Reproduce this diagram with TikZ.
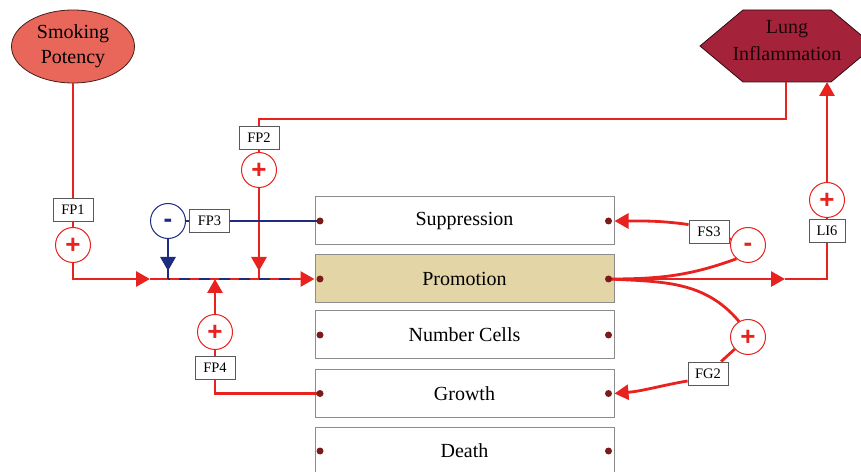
\documentclass[tikz,border=0pt]{standalone}
\usepackage{fontspec}
\setmainfont{Liberation Serif}
\newfontfamily\signfont{Liberation Sans}
\usetikzlibrary{arrows.meta,shapes.geometric,decorations.markings}

\definecolor{linkred}{HTML}{E8221E}
\definecolor{linkblue}{HTML}{1E2C80}
\definecolor{dotred}{HTML}{7A1C1C}
\definecolor{promofill}{HTML}{E4D5A7}
\definecolor{smokefill}{HTML}{E8665A}
\definecolor{lungfill}{HTML}{A5233A}
\definecolor{boxgray}{HTML}{8C8C8C}

% sign glyphs, vertically centred on the node centre
\newcommand\plussign{\smash{\raisebox{-8.5pt}{+}}}
\newcommand\minussign{\smash{\raisebox{-6.5pt}{-}}}

\tikzset{
  stage/.style={draw=boxgray, line width=1pt, fill=white, minimum width=299pt,
    minimum height=48pt, inner sep=0pt, font=\fontsize{20}{24}\selectfont},
  tag/.style={draw=black!65, line width=0.9pt, fill=white, minimum width=40pt,
    minimum height=23pt, inner sep=0pt, font=\fontsize{14.5}{16}\selectfont},
  sign/.style={circle, draw=linkred, line width=1pt, fill=white, minimum size=35pt,
    inner sep=0pt, text=linkred, font=\signfont\bfseries\fontsize{26}{26}\selectfont},
  bluesign/.style={sign, draw=linkblue, text=linkblue},
  link/.style={linkred, line width=2.8pt},
  bluelink/.style={linkblue, line width=2.8pt},
  arrowend/.style={-{Triangle[length=14pt,width=15pt]}},
  arrowbefore/.style={postaction={decorate}, decoration={markings,
    mark=at position -8pt with {\arrow{Triangle[length=14pt,width=15pt]}}}},
  dot/.style={circle, fill=dotred, minimum size=7pt, inner sep=0pt},
}

\begin{document}
\begin{tikzpicture}[x=1pt,y=1pt]
\useasboundingbox (0,0) rectangle (861,471);

% source: smoking potency
\node[ellipse, draw=black!70!smokefill, line width=0.8pt, fill=smokefill,
  minimum width=123pt, minimum height=73pt, inner sep=0pt, align=center,
  font=\fontsize{20}{25}\selectfont] (sp) at (73,424.5) {Smoking\\Potency};

% sink: lung inflammation
\draw[draw=black!70!lungfill, line width=0.8pt, fill=lungfill]
  (700,425) -- (743,461) -- (831,461) -- (874,425) -- (831,389) -- (743,389) -- cycle;
\node[align=center, text=black!85!lungfill, font=\fontsize{20}{27}\selectfont]
  (li) at (787,430) {Lung\\Inflammation};
\coordinate (liOut) at (786,389);
\coordinate (liIn) at (827,389);

% stages
\node[stage] (sup) at (464.5,250) {Suppression};
\node[stage, fill=promofill] (pro) at (464.5,192) {Promotion};
\node[stage] (num) at (464.5,136) {Number Cells};
\node[stage] (gro) at (464.5,77.5) {Growth};
\node[stage] (dea) at (464.5,20) {Death};
\foreach \s in {sup,pro,num,gro,dea} {
  \coordinate (\s-l) at ([xshift=5.5pt]\s.west);
  \coordinate (\s-r) at ([xshift=-6pt]\s.east);
}

% flow labels and signs
\node[tag] (fp1) at (73,261) {FP1};
\node[sign] (fp1c) at (73,226) {\plussign};
\node[tag] (fp2) at (259,333.5) {FP2};
\node[sign] (fp2c) at (259,301) {\plussign};
\node[bluesign] (fp3c) at (168,250) {\minussign};
\node[tag] (fp3) at (209.5,250) {FP3};
\node[sign] (fp4c) at (215,139) {\plussign};
\node[tag] (fp4) at (215,103) {FP4};
\node[tag] (fs3) at (709,239) {FS3};
\node[sign] (fs3c) at (748,226) {\minussign};
\node[tag] (fg2) at (708,97.5) {FG2};
\node[sign] (fg2c) at (748,134) {\plussign};
\node[tag, minimum width=36pt] (li6) at (827,240) {LI6};
\node[sign] (li6c) at (827,271) {\plussign};

% junctions on the promotion input line
\coordinate (m1) at (150,192);
\coordinate (j2) at (259,192);
\coordinate (j3) at (168,192);
\coordinate (j4) at (215,192);
\coordinate (d2) at (298,192);
\coordinate (m2) at (785,192);
\coordinate (c2) at (786,352);

% inputs to promotion
\draw[link] (sp) -- (fp1) (fp1) -- (fp1c);
\draw[link, arrowend] (fp1c) |- (m1);
\draw[link, arrowend] (m1) -- (pro.west);
\draw[link] (liOut) -- (c2) -| (fp2);
\draw[link] (fp2) -- (fp2c);
\draw[link, arrowbefore] (fp2c) -- (j2);
\draw[link] (gro-l) -| (fp4);
\draw[link] (fp4) -- (fp4c);
\draw[link, arrowend] (fp4c) -- (j4);
\draw[bluelink] (fp3c) -- (fp3);
\draw[bluelink] (fp3) -- (sup-l);
\draw[bluelink, arrowbefore] (fp3c) -- (j3);
\draw[bluelink, dash pattern=on 11pt off 9pt, dash phase=9pt] (j3) -- (d2);

% outputs of promotion
\draw[link, arrowend] (pro-r) -- (m2);
\draw[link] (m2) -| (li6);
\draw[link] (li6) -- (li6c);
\draw[link, arrowend] (li6c) -- (liIn);
\draw[link] (pro-r) to[out=0, in=200] (fs3c.230);
\draw[link] (fs3c) -- (fs3);
\draw[link, arrowend] (fs3.160) to[out=172, in=0] (sup.east);
\draw[link] (pro-r) to[out=-3, in=130] (fg2c.120);
\draw[link] (fg2c) -- (fg2);
\draw[link, arrowend] (fg2.200) to[out=190, in=5] (gro.east);

% connection dots on the stages
\foreach \s in {sup,pro,num,gro,dea} {
  \node[dot] (\s-ldot) at (\s-l) {};
  \node[dot] (\s-rdot) at (\s-r) {};
}
\end{tikzpicture}
\end{document}
